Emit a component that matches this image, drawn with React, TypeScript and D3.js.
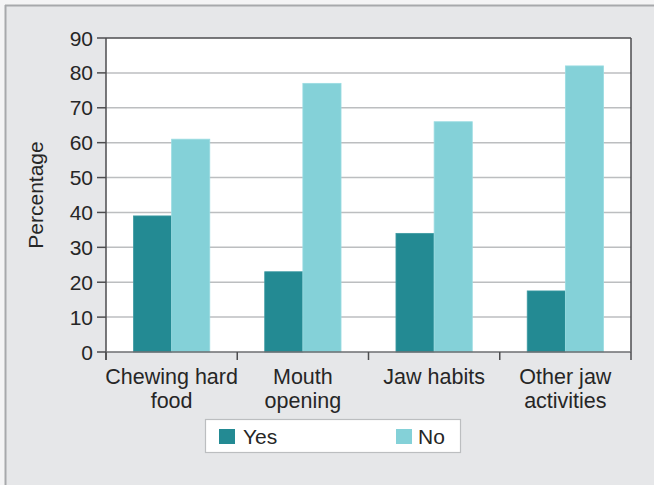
import React from "react";
import * as d3 from "d3";

const categories = [["Chewing hard", "food"], ["Mouth", "opening"], ["Jaw habits"], ["Other jaw", "activities"]];
const yesValues = [39, 23, 34, 17.5];
const noValues = [61, 77, 66, 82];
const yTicks = [0, 10, 20, 30, 40, 50, 60, 70, 80, 90];
const seriesNames = ["Yes", "No"];
const seriesColors = ["#238a93", "#84d1d8"];

const W = 654;
const H = 485;
const plot = { left: 106, right: 631, top: 38, bottom: 352 };
const font = "'Liberation Sans', Arial, sans-serif";
const textColor = "#262626";

const App = () => {
  const x = d3
    .scaleBand()
    .domain(categories.map((c, i) => String(i)))
    .range([plot.left, plot.right])
    .paddingInner(0)
    .paddingOuter(0);
  const inner = d3
    .scaleBand()
    .domain(seriesNames)
    .range([0, x.bandwidth()])
    .paddingInner(0)
    .paddingOuter(0.72);
  const y = d3.scaleLinear().domain([0, 90]).range([plot.bottom, plot.top]);

  const series = [yesValues, noValues];
  const boundaries = [0, 1, 2, 3].map((i) => x(String(i)));
  boundaries.push(plot.right);

  return (
    <svg width={W} height={H} style={{ position: "absolute", left: 0, top: 0 }} fontFamily={font}>
      <rect x={0} y={0} width={W} height={H} fill="#f4f4f5" />
      <rect x={5} y={5} width={W - 5} height={H - 5} fill="#e6e7e9" />
      <line x1={5} x2={W} y1={5.5} y2={5.5} stroke="#a7a9ac" strokeWidth={2} />
      <line x1={5.5} x2={5.5} y1={5} y2={H} stroke="#a7a9ac" strokeWidth={2} />

      <rect x={plot.left} y={plot.top} width={plot.right - plot.left} height={plot.bottom - plot.top} fill="#fff" />

      {yTicks.slice(1, -1).map((t) => (
        <line key={"g" + t} x1={plot.left} x2={plot.right} y1={y(t)} y2={y(t)} stroke="#bcbec0" strokeWidth={1.5} />
      ))}

      {series.map((vals, si) =>
        vals.map((v, ci) => (
          <rect
            key={si + "-" + ci}
            x={x(String(ci)) + inner(seriesNames[si])}
            y={y(v)}
            width={inner.bandwidth()}
            height={y(0) - y(v)}
            fill={seriesColors[si]}
            stroke={si === 0 ? "#3c9aa2" : "#9adce2"}
            strokeWidth={0.8}
          />
        ))
      )}

      <line x1={plot.left} x2={plot.right} y1={plot.top} y2={plot.top} stroke="#4d4d4f" strokeWidth={1.5} />
      <line x1={plot.right} x2={plot.right} y1={plot.top} y2={plot.bottom} stroke="#4d4d4f" strokeWidth={1.5} />
      <line x1={plot.left} x2={plot.left} y1={plot.top} y2={plot.bottom + 8} stroke="#4d4d4f" strokeWidth={1.5} />
      <line x1={plot.left} x2={plot.right} y1={plot.bottom} y2={plot.bottom} stroke="#6d6e71" strokeWidth={1.5} />

      {yTicks.map((t) => (
        <g key={"t" + t}>
          <line x1={plot.left - 9} x2={plot.left} y1={y(t)} y2={y(t)} stroke="#4d4d4f" strokeWidth={1.5} />
          <text x={plot.left - 13} y={y(t)} dy="0.36em" textAnchor="end" fontSize={21} fill={textColor}>
            {t}
          </text>
        </g>
      ))}

      {boundaries.map((b, i) => (
        <line key={"xt" + i} x1={b} x2={b} y1={plot.bottom} y2={plot.bottom + 8} stroke="#4d4d4f" strokeWidth={1.5} />
      ))}

      {categories.map((lines, i) => (
        <text key={"c" + i} x={x(String(i)) + x.bandwidth() / 2} y={384} textAnchor="middle" fontSize={21.5} fill={textColor}>
          {lines.map((l, j) => (
            <tspan key={j} x={x(String(i)) + x.bandwidth() / 2} dy={j === 0 ? 0 : 24}>
              {l}
            </tspan>
          ))}
        </text>
      ))}

      <text
        transform={`translate(43, ${(plot.top + plot.bottom) / 2}) rotate(-90)`}
        textAnchor="middle"
        fontSize={21}
        fill={textColor}
      >
        Percentage
      </text>

      <rect x={205.5} y={419.5} width={255} height={33} fill="#fff" stroke="#bcbec0" strokeWidth={1.2} />
      <rect x={219} y={429} width={16} height={15} fill={seriesColors[0]} />
      <text x={243} y={436.5} dy="0.36em" fontSize={21} fill={textColor}>
        {seriesNames[0]}
      </text>
      <rect x={396} y={429} width={16} height={15} fill={seriesColors[1]} />
      <text x={418} y={436.5} dy="0.36em" fontSize={21} fill={textColor}>
        {seriesNames[1]}
      </text>
    </svg>
  );
};

export default App;
